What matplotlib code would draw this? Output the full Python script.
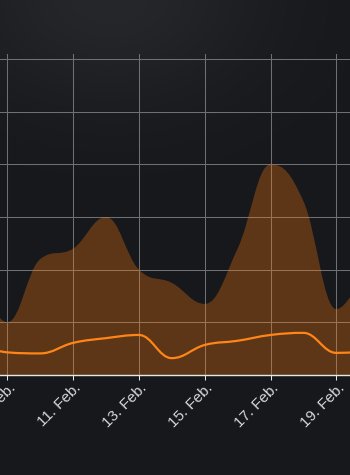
import numpy as np
import matplotlib
matplotlib.use("Agg")
from matplotlib import pyplot as plt
from matplotlib.path import Path
from matplotlib.patches import PathPatch
from matplotlib.transforms import ScaledTranslation

# days of February, one point per day
days = [8, 9, 10, 11, 12, 13, 14, 15, 16, 17, 18, 19, 20]
area_values = [2.0, 1.0, 2.2, 2.4, 3.0, 2.0, 1.75, 1.35, 2.4, 4.0, 3.3, 1.25, 2.2]
line_values = [0.6, 0.43, 0.41, 0.61, 0.70, 0.76, 0.32, 0.57, 0.65, 0.76, 0.80, 0.42, 0.45]
tick_days = [9, 11, 13, 15, 17, 19]
tick_labels = ["9. Feb.", "11. Feb.", "13. Feb.", "15. Feb.", "17. Feb.", "19. Feb."]


def spline_path(xs, ys, base=None):  # сглаживание как в highcharts
    sm = 1.5
    den = sm + 1
    n = len(xs)
    lc = [(xs[i], ys[i]) for i in range(n)]
    rc = [(xs[i], ys[i]) for i in range(n)]
    for i in range(1, n - 1):
        px, py = xs[i], ys[i]
        lx, ly = xs[i - 1], ys[i - 1]
        nx, ny = xs[i + 1], ys[i + 1]
        lcx = (sm * px + lx) / den
        lcy = (sm * py + ly) / den
        rcx = (sm * px + nx) / den
        rcy = (sm * py + ny) / den
        corr = (rcy - lcy) * (rcx - px) / (rcx - lcx) + py - rcy
        lcy += corr
        rcy += corr
        if lcy > ly and lcy > py:
            lcy = max(ly, py)
            rcy = 2 * py - lcy
        elif lcy < ly and lcy < py:
            lcy = min(ly, py)
            rcy = 2 * py - lcy
        if rcy > ny and rcy > py:
            rcy = max(ny, py)
            lcy = 2 * py - rcy
        elif rcy < ny and rcy < py:
            rcy = min(ny, py)
            lcy = 2 * py - rcy
        lc[i] = (lcx, lcy)
        rc[i] = (rcx, rcy)
    verts = [(xs[0], ys[0])]
    codes = [Path.MOVETO]
    for i in range(1, n):
        verts += [rc[i - 1], lc[i], (xs[i], ys[i])]
        codes += [Path.CURVE4] * 3
    if base is not None:
        verts += [(xs[-1], base), (xs[0], base), (xs[0], ys[0])]
        codes += [Path.LINETO, Path.LINETO, Path.CLOSEPOLY]
    return Path(verts, codes)


fig = plt.figure(figsize=(3.5, 4.75), dpi=100)

# фон с радиальным градиентом
bg = fig.add_axes([0, 0, 1, 1], zorder=-5)
yy, xx = np.mgrid[0:475, 0:350]
d = np.sqrt(((xx - 110) / 1.4) ** 2 + (yy + 5) ** 2)
k = np.exp(-(d / 110.0) ** 2)[..., None]
c0 = np.array([23, 24, 28]) / 255.0
c1 = np.array([38, 39, 42]) / 255.0
bg.imshow(c0 * (1 - k) + c1 * k, aspect="auto", extent=[0, 1, 0, 1])
bg.axis("off")

ax = fig.add_axes([0, 100 / 475, 1, 321 / 475])
ax.set_facecolor("none")

ax.add_patch(PathPatch(spline_path(days, area_values, base=0), facecolor=(1.0, 0.49, 0.04),
                       alpha=0.3, edgecolor="none", zorder=3))
ax.add_patch(PathPatch(spline_path(days, line_values), facecolor="none",
                       edgecolor="#ff8518", lw=1.6, zorder=4))

ax.set_xlim(8.778, 19.416)
ax.set_ylim(0, 6.095)
ax.set_yticks(range(7))
ax.set_xticks(tick_days)
ax.set_xticklabels(tick_labels)
ax.grid(True, color="#707073", lw=0.75, zorder=1)
ax.set_axisbelow(True)

for s in ["left", "right", "top"]:
    ax.spines[s].set_visible(False)
ax.spines["bottom"].set_color("#e6e6e6")
ax.spines["bottom"].set_linewidth(1.0)
ax.spines["bottom"].set_zorder(5)

ax.tick_params(axis="y", left=False, labelleft=False)
ax.tick_params(axis="x", direction="out", length=3.6, width=0.75, color="#e6e6e6",
               labelcolor="#d8d8d8", labelsize=11, pad=4)
for lbl in ax.get_xticklabels():
    lbl.set_fontfamily("Liberation Sans")
    lbl.set_rotation(45)
    lbl.set_ha("right")
    lbl.set_va("center")
    lbl.set_rotation_mode("anchor")
    lbl.set_transform(lbl.get_transform() + ScaledTranslation(6 / 100, 0, fig.dpi_scale_trans))

fig.savefig("out.png", dpi=100)
